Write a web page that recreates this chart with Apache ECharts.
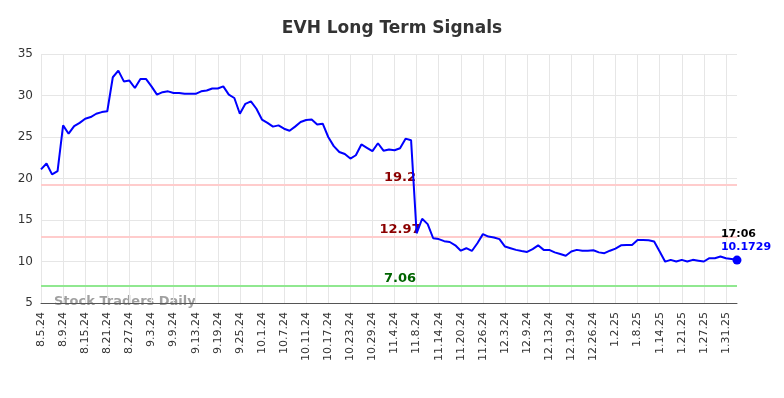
<!DOCTYPE html>
<html>
<head>
<meta charset="utf-8">
<script src="https://cdn.jsdelivr.net/npm/echarts@6/dist/echarts.min.js"></script>
<style>
  html, body { margin: 0; padding: 0; background: #fff; }
  #chart { width: 784px; height: 398px; }
</style>
</head>
<body>
<div id="chart"></div>
<script>
// trading days shown on the x axis
const dates = [
  '8.5.24', '8.6.24', '8.7.24', '8.8.24', '8.9.24', '8.12.24', '8.13.24', '8.14.24', '8.15.24', '8.16.24',
  '8.19.24', '8.20.24', '8.21.24', '8.22.24', '8.23.24', '8.26.24', '8.27.24', '8.28.24', '8.29.24', '8.30.24',
  '9.3.24', '9.4.24', '9.5.24', '9.6.24', '9.9.24', '9.10.24', '9.11.24', '9.12.24', '9.13.24', '9.16.24',
  '9.17.24', '9.18.24', '9.19.24', '9.20.24', '9.23.24', '9.24.24', '9.25.24', '9.26.24', '9.27.24', '9.30.24',
  '10.1.24', '10.2.24', '10.3.24', '10.4.24', '10.7.24', '10.8.24', '10.9.24', '10.10.24', '10.11.24', '10.14.24',
  '10.15.24', '10.16.24', '10.17.24', '10.18.24', '10.21.24', '10.22.24', '10.23.24', '10.24.24', '10.25.24', '10.28.24',
  '10.29.24', '10.30.24', '10.31.24', '11.1.24', '11.4.24', '11.5.24', '11.6.24', '11.7.24', '11.8.24', '11.11.24',
  '11.12.24', '11.13.24', '11.14.24', '11.15.24', '11.18.24', '11.19.24', '11.20.24', '11.21.24', '11.22.24', '11.25.24',
  '11.26.24', '11.27.24', '11.29.24', '12.2.24', '12.3.24', '12.4.24', '12.5.24', '12.6.24', '12.9.24', '12.10.24',
  '12.11.24', '12.12.24', '12.13.24', '12.16.24', '12.17.24', '12.18.24', '12.19.24', '12.20.24', '12.23.24', '12.24.24',
  '12.26.24', '12.27.24', '12.30.24', '12.31.24', '1.2.25', '1.3.25', '1.6.25', '1.7.25', '1.8.25', '1.9.25',
  '1.10.25', '1.13.25', '1.14.25', '1.15.25', '1.16.25', '1.17.25', '1.21.25', '1.22.25', '1.23.25', '1.24.25',
  '1.27.25', '1.28.25', '1.29.25', '1.30.25', '1.31.25', '2.3.25', '2.4.25'
]

// closing prices
const prices = [
  21.1, 21.8, 20.5, 20.9, 26.4, 25.4, 26.3, 26.7, 27.2, 27.4,
  27.8, 28.0, 28.1, 32.2, 33.0, 31.7, 31.8, 30.9, 32.0, 32.0,
  31.1, 30.1, 30.4, 30.5, 30.3, 30.3, 30.2, 30.2, 30.2, 30.5,
  30.6, 30.85, 30.85, 31.1, 30.1, 29.7, 27.8, 29.0, 29.3, 28.4,
  27.1, 26.7, 26.25, 26.4, 26.0, 25.75, 26.25, 26.8, 27.05, 27.1,
  26.5, 26.6, 25.0, 23.9, 23.2, 22.95, 22.4, 22.8, 24.1, 23.7,
  23.3, 24.25, 23.35, 23.5, 23.4, 23.65, 24.8, 24.6, 13.4, 15.15,
  14.5, 12.8, 12.7, 12.45, 12.35, 11.95, 11.3, 11.6, 11.27, 12.2,
  13.3, 13.0, 12.9, 12.7, 11.8, 11.6, 11.4, 11.27, 11.15, 11.5,
  11.95, 11.4, 11.4, 11.1, 10.9, 10.7, 11.2, 11.4, 11.3, 11.3,
  11.35, 11.1, 11.0, 11.3, 11.55, 11.95, 12.0, 12.0, 12.6, 12.6,
  12.55, 12.4, 11.2, 9.98, 10.2, 10.0, 10.2, 10.0, 10.2, 10.1,
  10.0, 10.4, 10.4, 10.6, 10.4, 10.3, 10.1729
]

// signal levels
const resistanceLevels = [19.2, 12.97]
const supportLevels = [7.06]
const lastTime = '17:06'

const yTicks = { min: 5, max: 35, step: 5 }

let chart = echarts.init(document.getElementById('chart'))
const lastIdx = prices.length - 1

chart.setOption({
  animation: false,
  title: {
    text: 'EVH Long Term Signals',
    left: 'center',
    top: 15,
    textStyle: {
      fontFamily: 'DejaVu Sans',
      fontSize: 17,
      fontWeight: 'bold',
      color: '#333'
    }
  },
  grid: {
    left: 41,
    right: 47,
    top: 54,
    bottom: 95
  },
  graphic: [
    {
      type: 'text',
      left: 54,
      top: 295,
      z: 0,
      style: {
        text: 'Stock Traders Daily',
        fontFamily: 'DejaVu Sans',
        fontSize: 13,
        fontWeight: 'bold',
        fill: 'rgba(120,120,120,0.7)'
      }
    }
  ],
  xAxis: {
    type: 'category',
    boundaryGap: false,
    data: dates,
    axisLine: {
      lineStyle: { color: '#555', width: 1 }
    },
    axisTick: { show: false },
    axisLabel: {
      interval: 3,
      rotate: 90,
      margin: 9,
      color: '#333',
      fontFamily: 'DejaVu Sans',
      fontSize: 11
    },
    splitLine: {
      show: true,
      interval: 3,
      lineStyle: { color: '#e6e6e6', width: 1 }
    }
  },
  yAxis: {
    type: 'value',
    min: yTicks.min,
    max: yTicks.max,
    interval: yTicks.step,
    axisLine: { show: false },
    axisTick: { show: false },
    axisLabel: {
      color: '#333',
      fontFamily: 'DejaVu Sans',
      fontSize: 12,
      margin: 8
    },
    splitLine: {
      lineStyle: { color: '#e6e6e6', width: 1 }
    }
  },
  series: [
    {
      type: 'line',
      data: prices,
      symbol: 'none',
      z: 5,
      lineStyle: { color: '#0000ff', width: 2 },
      markLine: {
        silent: true,
        symbol: 'none',
        data: resistanceLevels.map(v => ({
          yAxis: v,
          lineStyle: { color: '#ffcccc', width: 2, type: 'solid' },
          label: { color: '#8b0000' }
        })).concat(supportLevels.map(v => ({
          yAxis: v,
          lineStyle: { color: '#90e890', width: 2, type: 'solid' },
          label: { color: '#006400' }
        }))),
        label: {
          position: 'insideMiddleTop',
          distance: 1,
          padding: [0, 0, 0, 22],
          fontFamily: 'DejaVu Sans',
          fontSize: 13,
          fontWeight: 'bold',
          formatter: p => String(p.value)
        }
      },
      markPoint: {
        silent: true,
        symbol: 'circle',
        symbolSize: 9,
        itemStyle: { color: '#0000ff' },
        data: [{ coord: [lastIdx, prices[lastIdx]], value: prices[lastIdx] }],
        label: {
          show: true,
          position: 'top',
          distance: 2,
          offset: [9, 0],
          formatter: p => '{t|' + lastTime + '}\n{v|' + p.value + '}',
          rich: {
            t: {
              color: '#000',
              fontFamily: 'DejaVu Sans',
              fontSize: 11,
              fontWeight: 'bold',
              align: 'left',
              lineHeight: 13
            },
            v: {
              color: '#0000ff',
              fontFamily: 'DejaVu Sans',
              fontSize: 11,
              fontWeight: 'bold',
              align: 'left',
              lineHeight: 13
            }
          }
        }
      }
    }
  ]
})
</script>
</body>
</html>
